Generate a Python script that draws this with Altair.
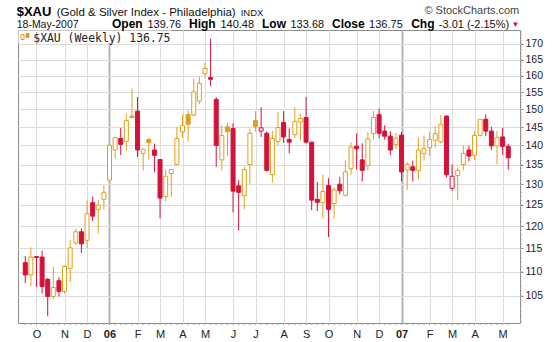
import json
import altair as alt
import pandas as pd

# ---- weekly OHLC values (Sep 2005 .. 18 May 2007) ----
opens = [111.9, 109.3, 113.2, 113.1, 108.4, 104.9, 108.1, 105.9, 110.7, 116.2,
         118.7, 116.8, 125.5, 123.9, 126.3, 131.0, 138.8, 141.9, 141.1, 148.1,
         149.5, 137.9, 141.6, 138.8, 136.3, 127.0, 132.7, 135.0, 143.7, 148.5,
         148.4, 152.4, 160.6, 159.4, 152.9, 136.2, 145.1, 144.6, 129.6, 127.2,
         135.0, 146.8, 143.9, 143.3, 132.4, 141.1, 146.3, 141.6, 143.0, 146.4,
         147.7, 140.9, 126.3, 125.5, 129.7, 125.3, 130.0, 127.3, 133.9, 139.8,
         136.2, 134.8, 143.2, 148.5, 143.9, 142.5, 140.2, 142.8, 133.6, 134.4,
         133.5, 137.9, 139.4, 141.4, 141.0, 148.1, 129.0, 132.2, 135.0, 138.8,
         137.4, 142.7, 147.2, 143.9, 139.9, 142.3, 139.76]
highs = [113.3, 115.2, 113.3, 114.5, 108.6, 111.0, 108.8, 111.3, 116.9, 119.4,
         119.5, 126.0, 127.0, 126.2, 129.7, 140.1, 142.4, 144.8, 148.8, 156.1,
         153.6, 139.2, 142.1, 140.5, 136.3, 133.6, 133.9, 145.0, 148.5, 149.7,
         159.0, 159.7, 164.0, 171.7, 153.6, 145.5, 146.1, 146.1, 131.0, 134.4,
         144.6, 149.5, 150.6, 143.8, 143.9, 149.2, 149.5, 144.6, 150.6, 148.8,
         153.6, 141.0, 130.6, 132.4, 131.5, 129.2, 131.8, 136.1, 140.8, 143.3,
         140.6, 143.6, 149.5, 150.2, 145.5, 143.9, 143.4, 143.7, 135.6, 136.0,
         142.1, 142.7, 143.7, 145.2, 148.4, 148.3, 135.0, 134.2, 140.0, 139.9,
         143.9, 147.2, 148.6, 145.1, 143.9, 144.8, 140.48]
lows = [107.6, 107.0, 106.8, 105.5, 101.0, 104.3, 104.9, 105.5, 107.8, 115.7,
        114.0, 115.1, 121.2, 118.3, 123.9, 131.0, 136.6, 137.5, 138.5, 147.5,
        136.9, 133.5, 136.3, 133.0, 121.8, 125.8, 126.9, 135.0, 142.1, 141.1,
        148.0, 151.5, 159.4, 156.8, 134.4, 133.5, 137.2, 123.2, 119.0, 123.9,
        130.2, 143.8, 142.3, 133.2, 130.4, 140.0, 140.7, 137.9, 142.1, 141.4,
        140.5, 123.7, 123.5, 121.8, 117.5, 121.8, 127.5, 127.0, 132.4, 133.7,
        130.7, 133.5, 141.6, 142.0, 141.6, 137.4, 139.0, 130.7, 128.6, 130.7,
        131.2, 136.0, 137.2, 139.4, 140.5, 131.7, 128.4, 126.1, 133.5, 135.8,
        136.2, 142.5, 142.5, 138.8, 135.0, 137.5, 133.68]
closes = [109.3, 113.1, 113.0, 106.9, 104.9, 106.7, 105.9, 111.1, 115.1, 118.7,
          116.0, 122.9, 122.3, 124.9, 128.0, 140.1, 142.1, 140.3, 146.8, 147.7,
          138.8, 139.0, 140.8, 137.4, 126.6, 132.0, 133.7, 141.9, 145.4, 145.8,
          155.1, 157.7, 162.2, 158.9, 140.0, 142.7, 143.7, 128.3, 128.0, 133.7,
          143.3, 145.1, 144.8, 133.5, 141.9, 144.9, 142.3, 140.9, 146.6, 147.4,
          140.9, 126.1, 125.6, 128.2, 123.9, 128.6, 128.4, 133.1, 139.6, 139.1,
          133.5, 141.8, 147.7, 143.3, 142.5, 138.8, 142.0, 133.1, 135.0, 133.5,
          138.8, 139.2, 141.6, 143.2, 145.8, 132.4, 132.0, 133.5, 137.9, 137.2,
          142.7, 147.2, 143.9, 139.9, 142.1, 139.76, 136.75]

# month gridlines (week index of the bar) and their labels
month_ticks = [2, 7, 11, 15, 20, 24, 28, 32, 37, 41, 46, 50, 54, 59, 63, 67, 72, 76, 80, 85]
month_labels = ["O", "N", "D", "06", "F", "M", "A", "M", "J", "J", "A", "S",
                "O", "N", "D", "07", "F", "M", "A", "M"]
year_ticks = [15, 67]
price_ticks = [105, 110, 115, 120, 125, 130, 135, 140, 145, 150, 155, 160, 165, 170]
minor_price_ticks = list(range(100, 175))

title_symbol = "$XAU"
title_name = "(Gold & Silver Index - Philadelphia)"
title_exchange = "INDX"
credit_text = "\u00a9 StockCharts.com"
date_text = "18-May-2007"
quote_names = ["Open", "High", "Low", "Close", "Chg"]
quote_values = ["139.76", "140.48", "133.68", "136.75", "-3.01 (-2.15%)"]
legend_text = "$XAU (Weekly) 136.75"

ORANGE = "#E0A01C"
RED = "#D3123C"
W, H = 502, 293
FONT = "Liberation Sans"

df = pd.DataFrame({"i": list(range(len(opens))), "open": opens, "high": highs,
                   "low": lows, "close": closes})
prev = df["close"].shift(1).fillna(df["open"])
df["dir"] = ["down" if c < p else "up" for c, p in zip(df["close"], prev)]
df["hollow"] = df["close"] >= df["open"]

year_test = " || ".join(f"datum.value == {t}" for t in year_ticks)
label_expr = f"{json.dumps(month_labels)}[indexof({json.dumps(month_ticks)}, datum.value)]"

xscale = alt.Scale(domain=[-0.4, 87.2], nice=False, zero=False)
xaxis = alt.Axis(values=month_ticks, labelExpr=label_expr, title=None, ticks=False,
                 domain=False, grid=True,
                 gridColor={"condition": {"test": year_test, "value": "#b4b4b4"}, "value": "#dcdcdc"},
                 gridWidth={"condition": {"test": year_test, "value": 2}, "value": 1},
                 labelFont=FONT, labelFontSize=11, labelColor="#222222", labelPadding=5,
                 labelFontWeight={"condition": {"test": year_test, "value": "bold"}, "value": "normal"},
                 labelFlush=False, labelOverlap=False)
yscale = alt.Scale(type="log", domain=[99.7, 174.6], nice=False, zero=False)
yaxis = alt.Axis(orient="right", values=price_ticks, format="d", title=None, domain=False,
                 grid=True, gridColor="#dcdcdc", tickSize=3, tickColor="#888888",
                 labelFont=FONT, labelFontSize=10.5, labelColor="#222222", labelPadding=2)

color_scale = alt.Scale(domain=["up", "down"], range=[ORANGE, RED])

base = alt.Chart(df)

wicks = base.mark_rule(strokeWidth=1).encode(
    x=alt.X("i:Q", scale=xscale, axis=xaxis),
    y=alt.Y("low:Q", scale=yscale, axis=yaxis),
    y2="high:Q",
    color=alt.Color("dir:N", scale=color_scale, legend=None),
)

bodies = base.mark_bar(size=4, strokeWidth=1).encode(
    x=alt.X("i:Q", scale=xscale, axis=xaxis),
    y=alt.Y("open:Q", scale=yscale, axis=yaxis),
    y2="close:Q",
    stroke=alt.Stroke("dir:N", scale=color_scale, legend=None),
    fill=alt.condition("datum.hollow", alt.value("white"),
                       alt.Fill("dir:N", scale=color_scale, legend=None)),
)

week_ticks = base.mark_rule(color="#999999", strokeWidth=1).encode(
    x=alt.X("i:Q", scale=xscale, axis=xaxis),
    y=alt.value(H), y2=alt.value(H + 2),
)

price_minor = alt.Chart(pd.DataFrame({"v": minor_price_ticks})).mark_rule(
    color="#aaaaaa", strokeWidth=1).encode(
    y=alt.Y("v:Q", scale=yscale, axis=yaxis),
    x=alt.value(W), x2=alt.value(W + 2),
)


def one():
    return alt.Chart(alt.Data(values=[{}]))


def text(txt, x, y, size=11, weight="normal", color="#111111", font=FONT, align="left"):
    return one().mark_text(text=txt, fontSize=size, fontWeight=weight, color=color,
                           font=font, align=align, baseline="alphabetic").encode(
        x=alt.value(x), y=alt.value(y))


legend_box = one().mark_rect(fill="white").encode(
    x=alt.value(0.5), x2=alt.value(154), y=alt.value(0.5), y2=alt.value(13))
icon_a = one().mark_rect(fill="white", stroke=ORANGE, strokeWidth=1).encode(
    x=alt.value(3), x2=alt.value(6), y=alt.value(4.5), y2=alt.value(9.5))
icon_b = one().mark_rect(fill=ORANGE, stroke=ORANGE, strokeWidth=1).encode(
    x=alt.value(8), x2=alt.value(11), y=alt.value(3.5), y2=alt.value(7.5))

LINE1 = -13.8
LINE2 = -1.8
texts = [
    text(title_symbol, -1.3, LINE1, size=13, weight="bold", color="#000000"),
    text(title_name, 38.7, LINE1, size=11.5, color="#111111"),
    text(title_exchange, 222.7, LINE1, size=9.5, color="#111111"),
    text(credit_text, 501.3, -16.5, size=11, color="#444444", align="right"),
    text(date_text, -1.3, LINE2, size=10.5, color="#111111"),
    text(legend_text, 15.3, 11.5, size=11.4, color="#222222", font="DejaVu Sans Mono"),
    text("\u25bc", 493.5, LINE2 - 1, size=8, color=RED),
]
# left edges of the quote fields, relative to the plot's left edge
name_x = [94.0, 171.0, 244.0, 314.0, 393.2]
value_x = [129.5, 202.4, 272.5, 351.1, 420.8]
for nm, nx in zip(quote_names, name_x):
    texts.append(text(nm, nx, LINE2, size=12, weight="bold", color="#000000"))
for vv, vx in zip(quote_values, value_x):
    texts.append(text(vv, vx, LINE2, size=11, color="#111111"))

chart = alt.layer(
    wicks, bodies, week_ticks, price_minor, legend_box, icon_a, icon_b, *texts
).properties(
    width=W, height=H,
    autosize=alt.AutoSizeParams(type="none"),
    padding={"left": 18, "top": 30, "right": 40, "bottom": 19},
    background="white",
).configure_view(stroke="#8c8c8c", strokeWidth=1)

chart.save("out.html", embed_options={"renderer": "svg", "actions": False})
